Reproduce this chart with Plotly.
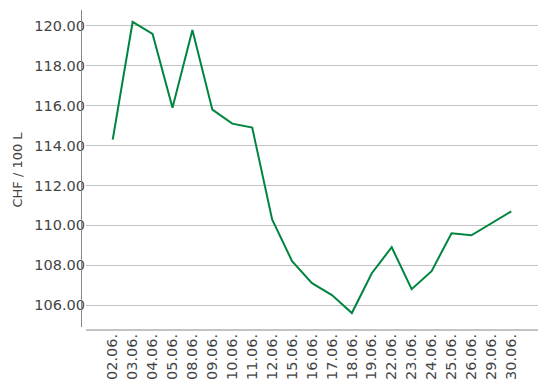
import plotly.graph_objects as go

dates = ["02.06.", "03.06.", "04.06.", "05.06.", "08.06.", "09.06.", "10.06.", "11.06.",
         "12.06.", "15.06.", "16.06.", "17.06.", "18.06.", "19.06.", "22.06.", "23.06.",
         "24.06.", "25.06.", "26.06.", "29.06.", "30.06."]
prices = [114.3, 120.2, 119.6, 115.9, 119.8, 115.8, 115.1, 114.9,
          110.3, 108.2, 107.1, 106.5, 105.6, 107.6, 108.9, 106.8,
          107.7, 109.6, 109.5, 110.1, 110.7]
y_ticks = [106, 108, 110, 112, 114, 116, 118, 120]

W, H = 548, 387
L, R, T, B = 86, 10, 10, 57
PW, PH = W - L - R, H - T - B

fig = go.Figure()
fig.add_trace(go.Scatter(
    x=list(range(len(dates))), y=prices, mode="lines",
    line=dict(color="#00853f", width=2), hoverinfo="skip", showlegend=False))

fig.update_layout(
    width=W, height=H, margin=dict(l=L, r=R, t=T, b=B, autoexpand=False),
    paper_bgcolor="white", plot_bgcolor="white",
    font=dict(family="DejaVu Sans", size=13, color="#444444"),
    xaxis=dict(
        tickmode="array", tickvals=list(range(len(dates))), ticktext=dates,
        tickangle=-90, range=[-1.34, len(dates) - 1 + 1.34],
        showgrid=False, zeroline=False, showline=False, ticks="",
        tickfont=dict(size=14.5, color="#444444"),
    ),
    yaxis=dict(
        tickmode="array", tickvals=y_ticks, tickformat=".2f",
        range=[104.75, 120.8], showgrid=True, gridcolor="#c4c4c4", gridwidth=1,
        zeroline=False, showline=False, ticks="",
        tickfont=dict(size=14.5, color="#444444"),
        title=dict(text="CHF / 100 L", font=dict(size=13, color="#444444"), standoff=8),
    ),
    shapes=[
        dict(type="line", xref="paper", yref="paper",
             x0=(81.5 - L) / PW, x1=(81.5 - L) / PW,
             y0=3 / PH, y1=1, line=dict(color="#888888", width=1)),
        dict(type="line", xref="paper", yref="paper",
             x0=0, x1=1, y0=0, y1=0, line=dict(color="#888888", width=1)),
    ],
)

fig.write_html("out.html")
